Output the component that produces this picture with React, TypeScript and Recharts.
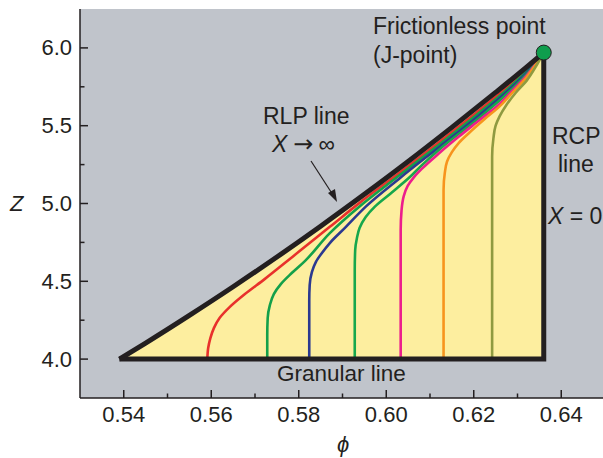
import { ComposedChart, Line, Area, XAxis, YAxis, CartesianGrid, ReferenceDot } from 'recharts';

// RLP boundary (X -> infinity)
const rlpPhi = [0.539, 0.545, 0.555, 0.565, 0.575, 0.585, 0.595, 0.605, 0.615, 0.625, 0.632, 0.636];
const rlpZ = [4.0, 4.103, 4.281, 4.465, 4.656, 4.854, 5.059, 5.27, 5.489, 5.714, 5.875, 5.97];

// RCP line + granular line (right and bottom edges)
const edgePhi = [0.636, 0.636, 0.539];
const edgeZ = [5.97, 4.0, 4.0];

const jPhi = 0.636;
const jZ = 5.97;

const redPhi = [0.5591, 0.5593, 0.5598, 0.5606, 0.5619, 0.5642, 0.5677, 0.5722, 0.5768, 0.5802, 0.5871, 0.5939, 0.6031, 0.6122, 0.6214, 0.6282, 0.632, 0.636];
const redZ = [4.0, 4.071, 4.135, 4.199, 4.264, 4.334, 4.418, 4.514, 4.617, 4.695, 4.85, 5.004, 5.199, 5.397, 5.602, 5.762, 5.857, 5.97];

const green1Phi = [0.5728, 0.5728, 0.5729, 0.5734, 0.5743, 0.5759, 0.5784, 0.5814, 0.5871, 0.5939, 0.6031, 0.6122, 0.6214, 0.6282, 0.632, 0.636];
const green1Z = [4.0, 4.154, 4.264, 4.347, 4.418, 4.482, 4.553, 4.63, 4.81, 4.981, 5.183, 5.381, 5.586, 5.748, 5.847, 5.97];

const bluePhi = [0.5824, 0.5824, 0.5825, 0.583, 0.5839, 0.5853, 0.5871, 0.5905, 0.5955, 0.6031, 0.6122, 0.6214, 0.6282, 0.632, 0.636];
const blueZ = [4.0, 4.379, 4.476, 4.559, 4.624, 4.682, 4.746, 4.842, 4.985, 5.163, 5.365, 5.57, 5.734, 5.838, 5.97];

const green2Phi = [0.5928, 0.5928, 0.5929, 0.5933, 0.5939, 0.5953, 0.5974, 0.6008, 0.6054, 0.6081, 0.6122, 0.6214, 0.6282, 0.632, 0.636];
const green2Z = [4.0, 4.572, 4.701, 4.778, 4.842, 4.913, 4.98, 5.06, 5.17, 5.245, 5.349, 5.554, 5.721, 5.828, 5.97];

const magentaPhi = [0.6033, 0.6033, 0.6035, 0.604, 0.6049, 0.6063, 0.6081, 0.6122, 0.6166, 0.6214, 0.6259, 0.6282, 0.632, 0.636];
const magentaZ = [4.0, 4.83, 4.958, 5.048, 5.113, 5.168, 5.222, 5.326, 5.43, 5.538, 5.64, 5.707, 5.819, 5.97];

const orangePhi = [0.6131, 0.6131, 0.6134, 0.6139, 0.615, 0.6166, 0.6191, 0.6225, 0.6259, 0.6282, 0.632, 0.636];
const orangeZ = [4.0, 5.087, 5.2, 5.27, 5.33, 5.39, 5.458, 5.543, 5.624, 5.693, 5.809, 5.97];

const olivePhi = [0.6242, 0.6242, 0.6245, 0.625, 0.6259, 0.6275, 0.6296, 0.6321, 0.6344, 0.636];
const oliveZ = [4.0, 5.3, 5.42, 5.5, 5.56, 5.635, 5.712, 5.79, 5.89, 5.97];

const xTicks = [0.54, 0.55, 0.56, 0.57, 0.58, 0.59, 0.6, 0.61, 0.62, 0.63, 0.64];
const yTicks = [4.0, 4.25, 4.5, 4.75, 5.0, 5.25, 5.5, 5.75, 6.0];

const zip = (phi: number[], z: number[]) => phi.map((p, i) => ({ phi: p, z: z[i] }));

const curves = [
  { key: 'red', color: '#e8312c', data: zip(redPhi, redZ) },
  { key: 'green1', color: '#14a04a', data: zip(green1Phi, green1Z) },
  { key: 'blue', color: '#2b3990', data: zip(bluePhi, blueZ) },
  { key: 'green2', color: '#17a74c', data: zip(green2Phi, green2Z) },
  { key: 'magenta', color: '#ec1e8c', data: zip(magentaPhi, magentaZ) },
  { key: 'orange', color: '#f7941d', data: zip(orangePhi, orangeZ) },
  { key: 'olive', color: '#8f9a40', data: zip(olivePhi, oliveZ) },
];

const INK = '#231f20';
const FONT = '"Liberation Sans", Arial, sans-serif';

const YTick = (props: any) => {
  const { x, y, payload } = props;
  const axis = x + 8;
  const v = payload.value;
  const major = Math.abs(v * 2 - Math.round(v * 2)) < 1e-6;
  return (
    <g>
      <line x1={axis} x2={axis + (major ? 8 : 4.5)} y1={y} y2={y} stroke={INK} strokeWidth={1.5} />
      {major && (
        <text x={x} y={y + 7.5} textAnchor="end" fontSize={22} fontFamily={FONT} fill={INK}>
          {v.toFixed(1)}
        </text>
      )}
    </g>
  );
};

const XTick = (props: any) => {
  const { x, y, payload } = props;
  const axis = y - 8;
  const v = payload.value;
  const major = Math.round(v * 100) % 2 === 0;
  return (
    <g>
      <line x1={x} x2={x} y1={axis} y2={axis - (major ? 8 : 4.5)} stroke={INK} strokeWidth={1.5} />
      {major && (
        <text x={x} y={y + 16} textAnchor="middle" fontSize={22} fontFamily={FONT} fill={INK}>
          {v.toFixed(2)}
        </text>
      )}
    </g>
  );
};

export default function App() {
  const rlp = zip(rlpPhi, rlpZ);
  const edge = zip(edgePhi, edgeZ);

  return (
    <div style={{ position: 'fixed', left: 0, top: 0, width: 603, height: 458, overflow: 'hidden', background: '#fff' }}>
      <ComposedChart width={615} height={458} margin={{ top: 9, right: 10, bottom: 30, left: 20 }}>
        <CartesianGrid horizontal={false} vertical={false} fill="#c0c4cb" fillOpacity={1} />
        <XAxis
          dataKey="phi"
          type="number"
          domain={[0.53, 0.65]}
          ticks={xTicks}
          interval={0}
          height={30}
          tickSize={0}
          tickMargin={8}
          tick={XTick}
          axisLine={{ stroke: INK, strokeWidth: 1.5 }}
        />
        <XAxis
          xAxisId="top"
          orientation="top"
          dataKey="phi"
          type="number"
          domain={[0.53, 0.65]}
          ticks={xTicks}
          interval={0}
          height={0}
          tick={false}
          tickSize={4}
          tickLine={{ stroke: INK, strokeWidth: 1.2 }}
          axisLine={{ stroke: INK, strokeWidth: 1.5 }}
        />
        <YAxis
          dataKey="z"
          type="number"
          domain={[3.75, 6.25]}
          ticks={yTicks}
          interval={0}
          width={60}
          tickSize={0}
          tickMargin={8}
          tick={YTick}
          axisLine={{ stroke: INK, strokeWidth: 1.5 }}
        />
        <Area
          data={rlp}
          dataKey="z"
          type="monotoneX"
          baseValue={4}
          fill="#fdee9f"
          fillOpacity={1}
          stroke="none"
          isAnimationActive={false}
        />
        {curves.map((c) => (
          <Line
            key={c.key}
            data={c.data}
            dataKey="z"
            type="monotoneY"
            stroke={c.color}
            strokeWidth={2.6}
            dot={false}
            activeDot={false}
            isAnimationActive={false}
          />
        ))}
        <Line
          data={rlp}
          dataKey="z"
          type="monotoneX"
          stroke={INK}
          strokeWidth={5}
          dot={false}
          activeDot={false}
          isAnimationActive={false}
        />
        <Line
          data={edge}
          dataKey="z"
          type="linear"
          stroke={INK}
          strokeWidth={5}
          strokeLinejoin="miter"
          dot={false}
          activeDot={false}
          isAnimationActive={false}
        />
        <ReferenceDot x={jPhi} y={jZ} r={7.5} fill="#0f9d4d" stroke={INK} strokeWidth={1} />
      </ComposedChart>
      <svg
        width={603}
        height={458}
        style={{ position: 'absolute', left: 0, top: 0, pointerEvents: 'none' }}
        fontFamily={FONT}
        fontSize={23}
        fill={INK}
      >
        <text x={373} y={34}>Frictionless point</text>
        <text x={373} y={63}>(J-point)</text>
        <text x={263} y={124}>RLP line</text>
        <text x={272} y={152}>
          <tspan fontStyle="italic">X</tspan>
          <tspan dx={6} fontFamily='"DejaVu Sans", sans-serif' fontSize={24}>→</tspan>
          <tspan dx={5}>∞</tspan>
        </text>
        <line x1={311} y1={161} x2={333} y2={195} stroke={INK} strokeWidth={1.2} />
        <polygon points="337,202 328,193 335,189" fill={INK} />
        <text x={552} y={144}>RCP</text>
        <text x={558} y={172}>line</text>
        <text x={548} y={224}>
          <tspan fontStyle="italic">X</tspan> = 0
        </text>
        <text x={277} y={381} fontSize={22.5}>Granular line</text>
        <text x={10} y={211} fontStyle="italic" fontSize={22}>Z</text>
        <text x={343} y={452} fontStyle="italic" textAnchor="middle" fontSize={22}>ϕ</text>
      </svg>
    </div>
  );
}
